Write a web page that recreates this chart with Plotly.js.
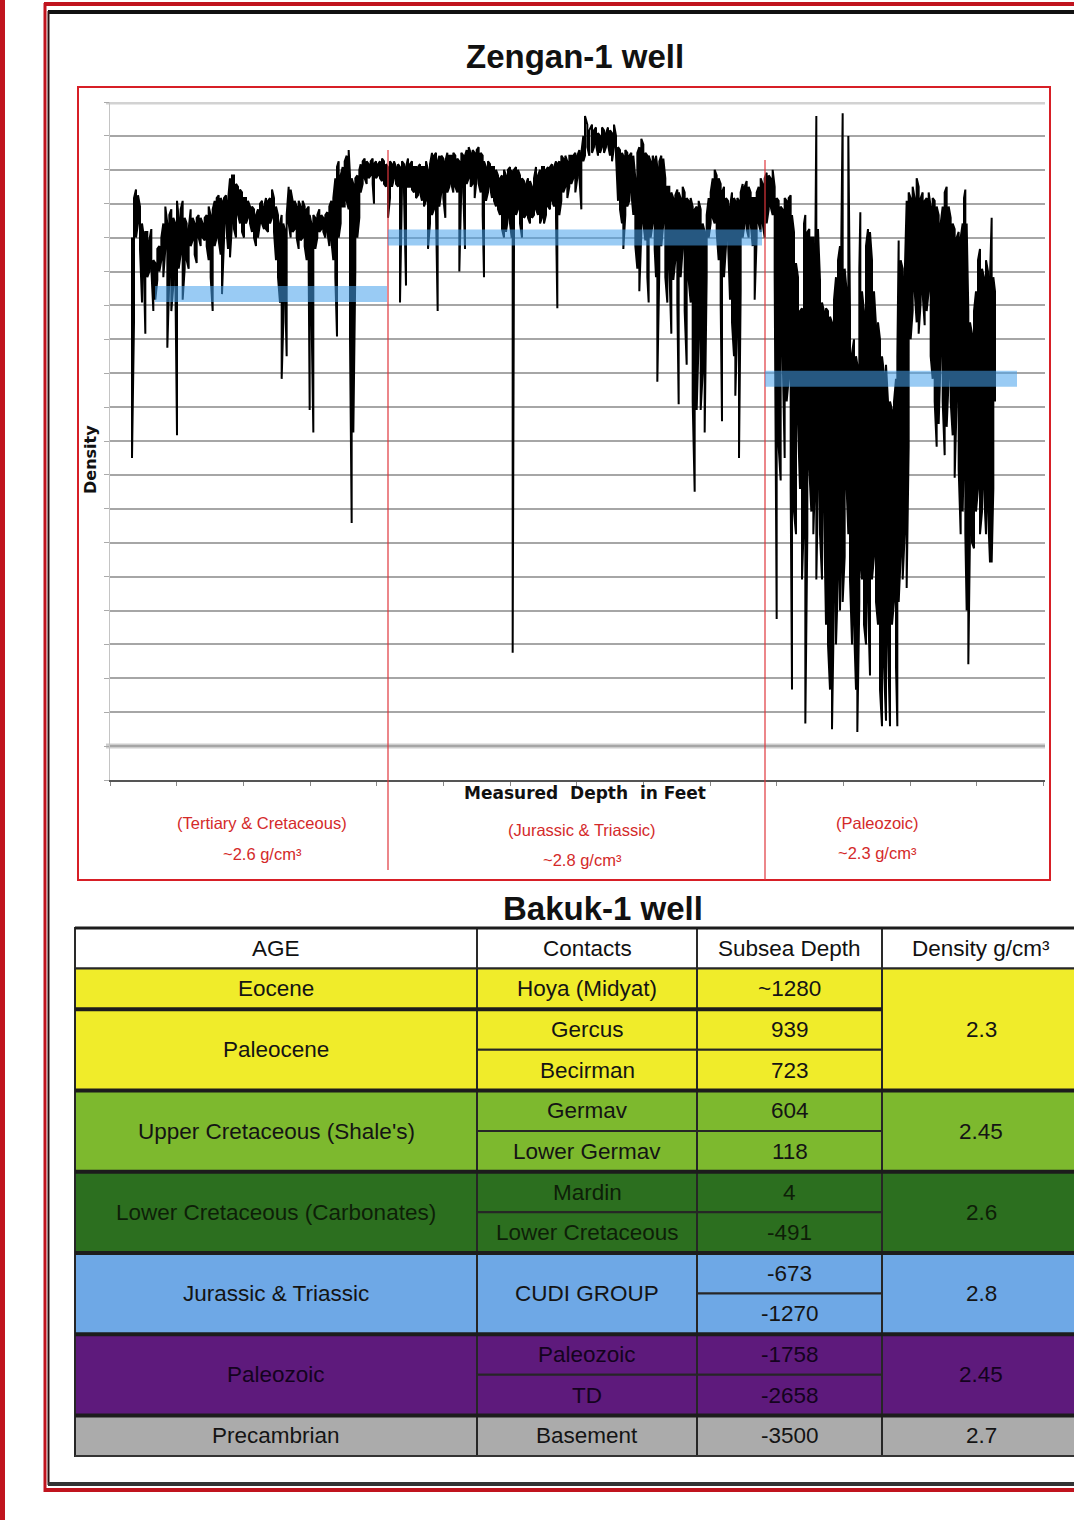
<!DOCTYPE html>
<html><head><meta charset="utf-8">
<script src="https://cdn.plot.ly/plotly-3.0.1.min.js"></script>
<style>html,body{margin:0;padding:0;background:#fff}#chart{width:1074px;height:1520px}</style>
</head><body><div id="chart"></div>
<script>
// ---------------- DATA: Zengan-1 density log ----------------
const logDepthFt = [
 330,360,390,420,450,480,510,530,560,590,
 620,650,680,710,740,770,800,830,860,890,
 920,950,980,1005,1030,1060,1090,1120,1150,1180,
 1210,1240,1270,1300,1330,1360,1390,1420,1450,1480,
 1510,1540,1570,1600,1630,1660,1680,1710,1740,1770,
 1800,1830,1860,1890,1920,1950,1980,2010,2040,2070,
 2100,2130,2160,2190,2220,2250,2280,2310,2340,2370,
 2400,2430,2460,2490,2520,2550,2575,2600,2630,2650,
 2680,2710,2740,2770,2800,2830,2860,2890,2920,2950,
 2980,2995,3020,3050,3080,3110,3140,3170,3200,3230,
 3260,3290,3320,3350,3380,3405,3430,3460,3490,3520,
 3550,3580,3600,3625,3650,3680,3710,3740,
 3760,3790,3820,3850,3880,3910,3940,3960,3990,4020,
 4050,4080,4110,4140,4170,4200,4230,4260,4290,4320,
 4350,4380,4410,4440,4470,4500,4530,4560,4590,4620,
 4650,4680,4710,4740,4770,4800,4830,4860,4890,4915,
 4940,4970,5000,5030,5060,5090,5120,5150,5180,5210,
 5240,5270,5300,5325,5350,5380,5410,5440,5470,5500,
 5530,5560,5590,5610,5640,5670,5700,5730,5760,5790,
 5820,5850,5880,5910,5940,5970,6000,6025,6040,6060,
 6090,6120,6150,6180,6210,6240,6270,6300,6330,6360,
 6390,6420,6450,6480,6510,6540,6570,6600,6630,6660,
 6690,6710,6740,6770,6800,6830,6860,6890,6920,6950,
 6980,7010,7040,7070,7100,7125,7160,7190,
 7230,7260,7290,7320,7350,7380,7410,7440,7470,7500,
 7530,7560,7590,7620,7650,7680,7700,7730,7760,7790,
 7820,7850,7880,7910,7940,7970,8000,8030,8060,8080,
 8110,8140,8170,8190,8210,8240,8270,8300,8330,8360,
 8390,8420,8450,8480,8510,8530,8560,8590,8620,8650,
 8680,8710,8740,8770,8800,8830,8860,8890,8920,8950,
 8980,9010,9040,9070,9100,9130,9160,9180,9210,9240,
 9270,9300,9330,9360,9380,9410,9435,9460,9490,9520,
 9550,9580,9610,9640,9670,9700,9730,9760,9790,9820,
 9850,9880,9910,9940,9970,10000,10030,10060,10090,10120,
 10150,10180,10210,10230,10260,10290,10320,10350,10380,10410,
 10430,10460,10490,10520,10550,10580,10595,10620,
 10650,10680,10710,10740,10770,10800,10830,10860,10890,10920,
 10950,10970,10990,11020,11050,11075,11100,11130,11160,11190,
 11210,11240,11255,11280,11310,11340,11370,11400,11430,11460,
 11490,11520,11550,11580,11610,11640,11670,11700,11730,11760,
 11790,11810,11830,11860,11890,11920,11950,11980,12010,12040,
 12070,12100,12130,12160,12190,12220,12250,12280,12310,12340,
 12370,12400,12430,12460,12490,12520,12550,12580,12610,12640,
 12670,12700,12730,12760,12790,12810,12830,12850,12875,12900,
 12930,12960,12990,13020,13050,13080,13110,13140,13170,13200,
 13225,13250,13275
];
const logDensityHigh = [
 2.80,2.94,2.97,2.95,2.91,2.85,2.80,2.82,2.82,2.79,
 2.83,2.72,2.71,2.76,2.77,2.80,2.85,2.91,2.85,2.88,
 2.90,2.87,2.85,2.93,2.87,2.90,2.93,2.87,2.85,2.83,
 2.90,2.87,2.85,2.87,2.88,2.87,2.85,2.87,2.88,2.91,
 2.88,2.90,2.93,2.94,2.95,2.94,2.93,2.94,2.95,2.93,
 3.01,3.02,3.02,2.99,2.98,2.97,2.96,2.94,2.94,2.93,
 2.91,2.91,2.90,2.88,2.90,2.92,2.93,2.91,2.94,2.93,
 2.94,2.97,2.94,2.91,2.88,2.85,2.88,2.85,2.82,2.88,
 2.98,2.97,2.93,2.93,2.91,2.93,2.91,2.93,2.91,2.90,
 2.91,2.88,2.85,2.88,2.87,2.88,2.90,2.88,2.87,2.88,
 2.89,2.91,2.93,2.94,3.01,3.05,3.07,3.02,3.05,3.07,
 3.09,3.11,3.02,3.01,2.99,3.01,3.02,3.04,
 3.06,3.07,3.08,3.07,3.06,3.07,3.08,3.06,3.07,3.06,
 3.07,3.08,3.07,3.06,3.05,3.07,3.06,3.07,3.05,3.06,
 3.05,3.07,3.06,3.05,3.08,3.06,3.07,3.05,3.05,3.05,
 3.06,3.05,3.05,3.07,3.04,3.06,3.10,3.09,3.10,3.07,
 3.09,3.09,3.08,3.07,3.10,3.09,3.09,3.10,3.09,3.08,
 3.07,3.10,3.09,3.09,3.11,3.12,3.10,3.11,3.10,3.11,
 3.12,3.10,3.09,3.07,3.05,3.07,3.06,3.05,3.05,3.04,
 3.02,3.01,3.02,3.04,3.02,3.04,3.05,3.04,3.02,3.04,
 3.05,3.04,3.02,3.01,3.00,2.99,3.01,3.00,2.98,3.01,
 3.05,3.02,3.04,3.05,3.05,3.04,3.05,3.05,3.06,3.05,
 3.07,3.06,3.07,3.09,3.08,3.09,3.07,3.09,3.09,3.09,
 3.10,3.09,3.11,3.10,3.16,3.23,3.20,3.18,
 3.20,3.18,3.19,3.17,3.16,3.19,3.18,3.17,3.19,3.18,
 3.17,3.20,3.16,3.12,3.11,3.10,3.09,3.11,3.10,3.09,
 3.10,3.09,3.01,3.10,3.12,3.15,3.13,3.10,3.09,3.09,
 3.07,3.09,3.07,3.09,3.05,3.07,3.09,3.08,3.01,2.98,
 2.98,2.96,2.94,2.95,2.97,2.96,2.94,2.98,2.96,2.94,
 2.93,2.94,2.91,2.90,2.91,2.93,2.90,2.85,2.82,2.88,
 2.94,2.96,3.01,3.04,3.02,3.01,2.99,2.96,2.98,2.94,
 2.93,2.91,2.96,2.94,2.93,2.94,2.93,2.96,2.99,2.98,
 3.00,2.98,2.96,2.94,2.94,2.96,2.98,3.01,2.99,3.01,
 3.03,3.02,3.01,3.04,2.98,2.94,2.93,2.91,2.90,2.94,
 2.93,2.94,2.95,2.88,2.82,2.71,2.66,2.54,2.55,2.85,
 2.88,2.82,2.83,2.80,2.80,2.77,3.23,2.83,
 2.65,2.57,2.54,2.55,2.54,2.52,2.50,2.58,2.66,2.72,
 2.77,2.80,3.24,2.69,2.61,3.16,2.54,2.39,2.44,2.38,
 2.35,2.69,2.89,2.61,2.54,2.77,2.83,2.82,2.72,2.61,
 2.49,2.50,2.44,2.38,2.32,2.35,2.22,2.22,2.19,2.22,
 2.30,2.38,2.79,2.72,2.69,2.66,2.93,2.96,2.94,2.98,
 2.94,3.01,2.98,2.94,2.96,2.93,2.94,2.96,2.91,2.94,
 2.93,2.91,2.88,2.85,2.91,2.96,2.98,2.91,2.87,2.85,
 2.83,2.80,2.82,2.80,2.85,2.94,2.97,2.85,2.54,2.50,
 2.46,2.54,2.61,2.72,2.76,2.69,2.66,2.72,2.68,2.66,
 2.87,2.66,2.61
];
const logDensityLow = [
 2.02,2.50,2.80,2.85,2.76,2.57,2.66,2.46,2.66,2.68,
 2.69,2.54,2.58,2.65,2.68,2.72,2.66,2.76,2.41,2.66,
 2.54,2.63,2.66,2.10,2.69,2.74,2.58,2.69,2.72,2.69,
 2.77,2.79,2.74,2.71,2.80,2.77,2.80,2.79,2.77,2.72,
 2.66,2.54,2.77,2.80,2.79,2.74,2.60,2.79,2.85,2.76,
 2.73,2.85,2.83,2.80,2.88,2.85,2.82,2.80,2.85,2.87,
 2.85,2.82,2.80,2.77,2.80,2.85,2.85,2.83,2.83,2.82,
 2.85,2.87,2.82,2.72,2.66,2.57,2.30,2.50,2.57,2.38,
 2.85,2.80,2.82,2.83,2.80,2.76,2.79,2.80,2.77,2.72,
 2.69,2.19,2.57,2.11,2.76,2.80,2.82,2.83,2.82,2.80,
 2.82,2.77,2.79,2.72,2.66,2.45,2.80,2.85,2.91,2.91,
 2.93,2.90,2.44,1.79,2.11,2.69,2.80,2.87,
 2.96,2.99,3.01,2.99,3.01,3.02,2.99,2.92,3.01,3.02,
 3.01,3.00,2.99,2.98,2.87,2.94,2.98,3.01,2.99,2.98,
 2.57,2.98,2.96,2.63,2.98,2.98,2.97,2.96,2.94,2.95,
 2.96,2.93,2.91,2.93,2.76,2.85,2.88,2.90,2.89,2.54,
 2.91,2.96,2.94,2.87,2.96,2.98,2.99,2.96,2.98,2.96,
 2.68,2.98,2.96,2.76,2.99,3.01,2.98,2.99,2.94,3.01,
 2.99,2.96,2.88,2.66,2.93,2.96,2.98,2.94,2.93,2.91,
 2.90,2.88,2.83,2.80,2.82,2.87,2.85,2.80,1.33,2.76,
 2.88,2.90,2.85,2.80,2.87,2.88,2.87,2.85,2.87,2.88,
 2.90,2.88,2.85,2.87,2.85,2.88,2.91,2.90,2.93,2.91,
 2.87,2.55,2.88,2.93,2.96,2.98,2.94,2.98,2.99,3.01,
 2.96,3.01,3.02,2.90,3.07,3.09,3.12,3.09,
 3.10,3.12,3.13,3.09,3.10,3.12,3.10,3.12,3.13,3.09,
 3.07,3.12,3.09,2.93,2.90,2.85,2.76,2.88,2.91,2.93,
 2.96,2.88,2.77,2.69,2.61,2.82,2.85,2.79,2.66,2.57,
 2.80,2.85,2.76,2.66,2.29,2.69,2.77,2.85,2.66,2.57,
 2.69,2.46,2.65,2.72,2.57,2.21,2.66,2.76,2.54,2.35,
 2.65,2.57,2.22,1.90,2.19,2.44,2.19,2.32,2.11,2.66,
 2.80,2.85,2.87,2.85,2.82,2.72,2.57,2.15,2.66,2.77,
 2.79,2.58,2.50,2.38,2.24,2.49,2.02,2.61,2.80,2.85,
 2.83,2.80,2.85,2.77,2.58,2.80,2.85,2.82,2.85,2.80,
 2.85,2.90,2.91,2.88,2.66,1.45,2.06,1.94,2.38,2.02,
 2.22,2.30,1.91,1.20,1.83,1.75,2.14,1.91,1.59,1.81,
 1.08,1.75,1.98,1.83,1.75,1.98,1.59,1.91,
 1.75,1.59,1.83,1.43,1.36,1.20,1.06,1.51,1.36,1.59,
 1.48,1.75,1.51,1.67,1.91,1.75,1.59,1.36,1.43,1.20,
 1.05,1.51,1.67,1.59,1.43,1.36,1.51,1.25,1.59,1.67,
 1.51,1.43,1.20,1.07,1.28,1.09,1.36,1.07,1.43,1.51,
 1.28,1.07,1.51,1.67,1.59,1.75,1.56,2.06,2.44,2.54,
 2.61,2.50,2.46,2.57,2.60,2.49,2.54,2.61,2.38,2.30,
 2.22,2.06,2.14,2.38,2.22,2.03,2.13,2.30,2.22,2.10,
 1.95,2.22,1.98,1.75,1.83,2.06,1.75,1.48,1.29,1.75,
 1.72,1.70,1.83,1.91,1.75,1.83,1.91,1.75,1.83,1.65,
 1.65,1.91,2.22
];

// Zones of the Zengan-1 log
const zoneNames = ['(Tertiary & Cretaceous)', '(Jurassic & Triassic)', '(Paleozoic)'];
const zoneAvgDensity = [2.6, 2.8, 2.3];
const zoneBandStartFt = [675, 4170, 9825];
const zoneBandEndFt = [4155, 9780, 13605];
const zoneBoundaryFt = [4170, 9825];

// Bakuk-1 well table
const tableHeaders = ['AGE', 'Contacts', 'Subsea Depth', 'Density g/cm³'];
const ageNames = ['Eocene', 'Paleocene', "Upper Cretaceous (Shale's)", 'Lower Cretaceous (Carbonates)', 'Jurassic & Triassic', 'Paleozoic', 'Precambrian'];
const ageRowSpan = [1, 2, 2, 2, 2, 2, 1];
const contactNames = ['Hoya (Midyat)', 'Gercus', 'Becirman', 'Germav', 'Lower Germav', 'Mardin', 'Lower Cretaceous', 'CUDI GROUP', 'Paleozoic', 'TD', 'Basement'];
const contactRowSpan = [1, 1, 1, 1, 1, 1, 1, 2, 1, 1, 1];
const subseaDepth = ['~1280', '939', '723', '604', '118', '4', '-491', '-673', '-1270', '-1758', '-2658', '-3500'];
const densityValues = ['2.3', '2.45', '2.6', '2.8', '2.45', '2.7'];
const densityRowSpan = [3, 2, 2, 2, 2, 1];

// ---------------- STYLE / LAYOUT ----------------
const W = 1074, H = 1520;
const px = x => x / W, py = y => 1 - y / H;
const SANS = '"Liberation Sans", Arial, sans-serif';
const BOLDF = '"DejaVu Sans", "Liberation Sans", sans-serif';
const ageFill = ['#F0EC2A', '#F0EC2A', '#7DB92E', '#2C6F1F', '#6EA8E6', '#5E1A7C', '#ABABAB'];
const ageText = ['#141414', '#141414', '#141414', '#0e1f08', '#141414', '#14031e', '#141414'];
const bandColor = 'rgba(70,160,235,0.55)';
const redLab = '#d42a2a';

// log trace (alternating high/low readings at each depth)
const lx = [], ly = [];
const n = Math.min(logDepthFt.length, logDensityHigh.length, logDensityLow.length);
for (let i = 0; i < n; i++) {
  lx.push(logDepthFt[i], logDepthFt[i]);
  if (i % 2 === 0) ly.push(logDensityHigh[i], logDensityLow[i]);
  else ly.push(logDensityLow[i], logDensityHigh[i]);
}
const traces = [{
  type: 'scatter', mode: 'lines', x: lx, y: ly,
  line: {color: '#000000', width: 2}, hoverinfo: 'skip', showlegend: false
}];

const shapes = [];
const annotations = [];

// outer frame
shapes.push({type: 'rect', xref: 'paper', yref: 'paper', x0: px(0), x1: px(5), y0: py(0), y1: py(H), fillcolor: '#c0141e', line: {width: 0}});
shapes.push({type: 'line', xref: 'paper', yref: 'paper', x0: px(44), x1: px(W), y0: py(4), y1: py(4), line: {color: '#c0141e', width: 4}});
shapes.push({type: 'line', xref: 'paper', yref: 'paper', x0: px(48), x1: px(W), y0: py(12), y1: py(12), line: {color: '#111', width: 4}});
shapes.push({type: 'line', xref: 'paper', yref: 'paper', x0: px(45), x1: px(45), y0: py(3), y1: py(1492), line: {color: '#c0141e', width: 3}});
shapes.push({type: 'line', xref: 'paper', yref: 'paper', x0: px(48.5), x1: px(48.5), y0: py(11), y1: py(1485), line: {color: '#2a1010', width: 2}});
shapes.push({type: 'line', xref: 'paper', yref: 'paper', x0: px(48), x1: px(W), y0: py(1484), y1: py(1484), line: {color: '#333', width: 4}});
shapes.push({type: 'line', xref: 'paper', yref: 'paper', x0: px(44), x1: px(W), y0: py(1490), y1: py(1490), line: {color: '#c0141e', width: 4}});

// chart red box
shapes.push({type: 'rect', xref: 'paper', yref: 'paper', x0: px(78), x1: px(1050), y0: py(880), y1: py(87), line: {color: '#d71f26', width: 2}, fillcolor: 'rgba(0,0,0,0)'});

// thick light top/bottom grid lines
shapes.push({type: 'line', xref: 'paper', yref: 'y', x0: px(106), x1: px(1045), y0: 3.28, y1: 3.28, line: {color: '#d2d2d2', width: 5}, layer: 'below'});
shapes.push({type: 'line', xref: 'paper', yref: 'y', x0: px(106), x1: px(1045), y0: 1.00, y1: 1.00, line: {color: '#cdcdcd', width: 5}, layer: 'below'});

// zone boundaries (red vertical)
const boundTop = [150, 160], boundBot = [870, 880];
zoneBoundaryFt.forEach((f, i) => {
  shapes.push({type: 'line', xref: 'x', yref: 'paper', x0: f, x1: f, y0: py(boundBot[i]), y1: py(boundTop[i]), line: {color: '#e0363c', width: 1.2}});
});
// average density bands
zoneAvgDensity.forEach((d, i) => {
  shapes.push({type: 'line', xref: 'x', yref: 'y', x0: zoneBandStartFt[i], x1: zoneBandEndFt[i], y0: d, y1: d, line: {color: bandColor, width: 16}, layer: 'above'});
});
// zone labels
const zoneLabelFt = [2280, 7080, 11505];
const zoneLabelY = [[823, 854], [830, 860], [823, 853]];
zoneNames.forEach((z, i) => {
  annotations.push({xref: 'x', yref: 'paper', x: zoneLabelFt[i], y: py(zoneLabelY[i][0]), text: z, showarrow: false, xanchor: 'center', yanchor: 'middle', font: {family: SANS, size: 16.5, color: redLab}});
  annotations.push({xref: 'x', yref: 'paper', x: zoneLabelFt[i], y: py(zoneLabelY[i][1]), text: '~' + zoneAvgDensity[i].toFixed(1) + ' g/cm³', showarrow: false, xanchor: 'center', yanchor: 'middle', font: {family: SANS, size: 16.5, color: redLab}});
});

// titles
annotations.push({xref: 'paper', yref: 'paper', x: px(575), y: py(57), text: '<b>Zengan-1 well</b>', showarrow: false, xanchor: 'center', yanchor: 'middle', font: {family: SANS, size: 33, color: '#111'}});
annotations.push({xref: 'paper', yref: 'paper', x: px(603), y: py(908), text: '<b>Bakuk-1 well</b>', showarrow: false, xanchor: 'center', yanchor: 'middle', font: {family: SANS, size: 33, color: '#111'}});
annotations.push({xref: 'paper', yref: 'paper', x: px(585), y: py(793), text: '<b>Measured  Depth  in Feet</b>', showarrow: false, xanchor: 'center', yanchor: 'middle', font: {family: BOLDF, size: 17, color: '#111'}});
annotations.push({xref: 'paper', yref: 'paper', x: px(91), y: py(460), text: '<b>Density</b>', textangle: -90, showarrow: false, xanchor: 'center', yanchor: 'middle', font: {family: BOLDF, size: 16, color: '#111'}});

// ---------------- TABLE ----------------
const colEdges = [75, 477, 697, 882, 1080];
const tTop = 928, rowH = (1456 - 928) / 13;
const rowY = r => tTop + (r + 1) * rowH; // top edge of data row r
const nRows = subseaDepth.length;
const rowAge = [];
ageRowSpan.forEach((s, a) => { for (let k = 0; k < s; k++) rowAge.push(a); });
const TF = 22.5;

// header
tableHeaders.forEach((h, c) => {
  shapes.push({type: 'rect', xref: 'paper', yref: 'paper', x0: px(colEdges[c]), x1: px(colEdges[c + 1]), y0: py(tTop + rowH), y1: py(tTop), fillcolor: '#ffffff', line: {color: '#2a2a2a', width: 2}, layer: 'below'});
  annotations.push({xref: 'paper', yref: 'paper', x: px((colEdges[c] + colEdges[c + 1]) / 2), y: py(tTop + rowH / 2), text: h, showarrow: false, xanchor: 'center', yanchor: 'middle', font: {family: SANS, size: TF, color: '#111'}});
});
function addColumn(c, texts, spans) {
  let r = 0;
  texts.forEach((t, i) => {
    const s = spans ? spans[i] : 1;
    const a = rowAge[r];
    const yTopPx = rowY(r), yBotPx = rowY(r + s);
    shapes.push({type: 'rect', xref: 'paper', yref: 'paper', x0: px(colEdges[c]), x1: px(colEdges[c + 1]), y0: py(yBotPx), y1: py(yTopPx), fillcolor: ageFill[a], line: {color: '#262626', width: 2}, layer: 'below'});
    annotations.push({xref: 'paper', yref: 'paper', x: px((colEdges[c] + colEdges[c + 1]) / 2), y: py((yTopPx + yBotPx) / 2), text: t, showarrow: false, xanchor: 'center', yanchor: 'middle', font: {family: SANS, size: TF, color: ageText[a]}});
    r += s;
  });
}
addColumn(0, ageNames, ageRowSpan);
addColumn(1, contactNames, contactRowSpan);
addColumn(2, subseaDepth, null);
addColumn(3, densityValues, densityRowSpan);
// thick group separators
let cum = 0;
ageRowSpan.forEach((s, i) => {
  cum += s;
  if (i < ageRowSpan.length - 1) shapes.push({type: 'line', xref: 'paper', yref: 'paper', x0: px(colEdges[0]), x1: px(colEdges[3]), y0: py(rowY(cum)), y1: py(rowY(cum)), line: {color: '#1c1c1c', width: 4}});
});
cum = 0;
densityRowSpan.forEach((s, i) => {
  cum += s;
  if (i < densityRowSpan.length - 1) shapes.push({type: 'line', xref: 'paper', yref: 'paper', x0: px(colEdges[3]), x1: px(colEdges[4]), y0: py(rowY(cum)), y1: py(rowY(cum)), line: {color: '#1c1c1c', width: 4}});
});
shapes.push({type: 'line', xref: 'paper', yref: 'paper', x0: px(colEdges[0]), x1: px(colEdges[4]), y0: py(tTop), y1: py(tTop), line: {color: '#1c1c1c', width: 3}});
shapes.push({type: 'line', xref: 'paper', yref: 'paper', x0: px(colEdges[0]), x1: px(colEdges[4]), y0: py(rowY(nRows)), y1: py(rowY(nRows)), line: {color: '#333', width: 2}});

const layout = {
  width: W, height: H,
  margin: {l: 0, r: 0, t: 0, b: 0},
  paper_bgcolor: '#ffffff', plot_bgcolor: '#ffffff',
  showlegend: false,
  xaxis: {
    domain: [px(110), px(1045)], range: [0, 14025], tick0: 0, dtick: 1000,
    showticklabels: false, ticks: 'outside', ticklen: 4, tickcolor: '#888',
    showgrid: false, zeroline: false, showline: true, linecolor: '#555', linewidth: 2, fixedrange: true
  },
  yaxis: {
    domain: [py(780), py(102)], range: [0.88, 3.28], tick0: 0.88, dtick: 0.12,
    showticklabels: false, ticks: 'outside', ticklen: 5, tickcolor: '#aaa',
    showgrid: true, gridcolor: '#a6a6a6', gridwidth: 2, zeroline: false,
    showline: true, linecolor: '#c4c4c4', linewidth: 1, fixedrange: true
  },
  shapes: shapes,
  annotations: annotations
};
Plotly.newPlot('chart', traces, layout, {displayModeBar: false, staticPlot: true});
</script></body></html>
